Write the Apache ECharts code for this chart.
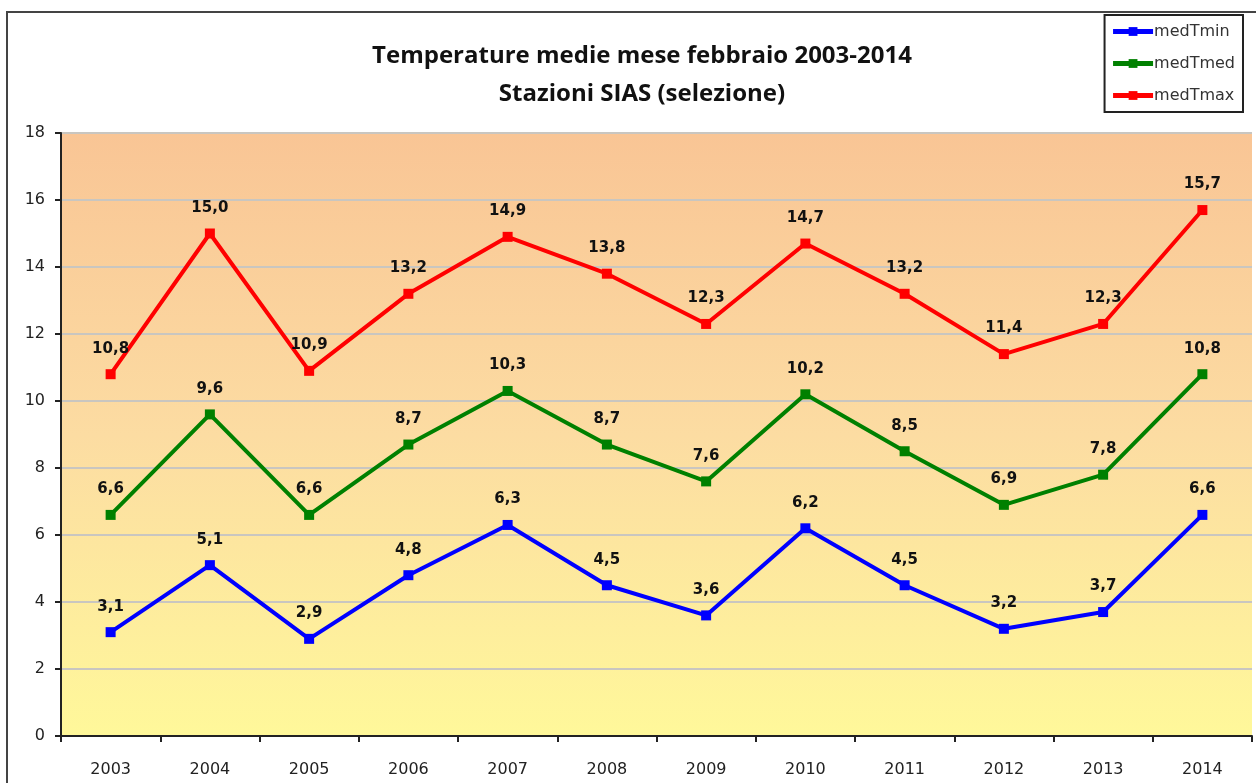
<!DOCTYPE html>
<html>
<head>
<meta charset="utf-8">
<script src="https://cdn.jsdelivr.net/npm/echarts@6/dist/echarts.min.js"></script>
<style>
  html, body { margin: 0; padding: 0; background: #fff; }
  #chart { width: 1256px; height: 783px; }
</style>
</head>
<body>
<div id="chart"></div>
<script>
var years = ['2003', '2004', '2005', '2006', '2007', '2008', '2009', '2010', '2011', '2012', '2013', '2014'];
var medTmin = [3.1, 5.1, 2.9, 4.8, 6.3, 4.5, 3.6, 6.2, 4.5, 3.2, 3.7, 6.6];
var medTmed = [6.6, 9.6, 6.6, 8.7, 10.3, 8.7, 7.6, 10.2, 8.5, 6.9, 7.8, 10.8];
var medTmax = [10.8, 15.0, 10.9, 13.2, 14.9, 13.8, 12.3, 14.7, 13.2, 11.4, 12.3, 15.7];

var myChart = echarts.init(document.getElementById('chart'));

function makeSeries(name, data, color) {
  return {
    name: name,
    type: 'line',
    data: data,
    symbol: 'rect',
    symbolSize: 10,
    lineStyle: { color: color, width: 4 },
    itemStyle: { color: color },
    label: {
      show: true,
      position: 'top',
      distance: 13,
      color: '#111',
      fontWeight: 'bold',
      fontSize: 15,
      fontFamily: 'DejaVu Sans',
      formatter: function (p) { return p.value.toFixed(1).replace('.', ','); }
    },
    z: 3
  };
}

var option = {
  backgroundColor: '#ffffff',
  animation: false,
  title: {
    text: 'Temperature medie mese febbraio 2003-2014\nStazioni SIAS (selezione)',
    left: 637,
    textAlign: 'center',
    top: 32,
    textStyle: {
      fontFamily: 'Open Sans',
      fontWeight: 'bold',
      fontSize: 24,
      lineHeight: 38,
      color: '#111'
    }
  },
  legend: {
    orient: 'vertical',
    right: 13,
    top: 15,
    width: 130,
    padding: [7, 8, 7, 6],
    itemGap: 13,
    itemWidth: 40,
    itemHeight: 11,
    backgroundColor: '#ffffff',
    borderColor: '#222',
    borderWidth: 2,
    lineStyle: { width: 5 },
    textStyle: { fontFamily: 'DejaVu Sans', fontSize: 16, lineHeight: 19, color: '#333', padding: [0, 0, 0, -4] },
    data: ['medTmin', 'medTmed', 'medTmax']
  },
  grid: { left: 61, right: 4, top: 133, bottom: 47, containLabel: false },
  xAxis: {
    type: 'category',
    data: years,
    boundaryGap: true,
    axisLine: { lineStyle: { color: '#222', width: 2 } },
    axisTick: { show: true, inside: false, length: 6, lineStyle: { color: '#222', width: 2 } },
    axisLabel: { margin: 26, fontSize: 16, color: '#222', fontFamily: 'DejaVu Sans' }
  },
  yAxis: {
    type: 'value',
    min: 0,
    max: 18,
    interval: 2,
    axisLine: { show: true, lineStyle: { color: '#222', width: 2 } },
    axisTick: { show: true, length: 6, lineStyle: { color: '#222', width: 2 } },
    axisLabel: { margin: 16, fontSize: 16, color: '#222', fontFamily: 'DejaVu Sans' },
    splitLine: { lineStyle: { color: '#c9c6c0', width: 2 } },
    splitArea: { show: false }
  },
  graphic: [
    {
      type: 'rect',
      shape: { x: 62, y: 133, width: 1190, height: 603 },
      style: {
        fill: new echarts.graphic.LinearGradient(0, 0, 0, 1, [
          { offset: 0, color: '#f9c595' },
          { offset: 0.5, color: '#fcdca2' },
          { offset: 1, color: '#fff89a' }
        ])
      },
      z: -1,
      silent: true
    },
    {
      type: 'rect',
      shape: { x: 7, y: 12, width: 1260, height: 800 },
      style: { fill: 'none', stroke: '#444', lineWidth: 2 },
      z: 10,
      silent: true
    }
  ],
  series: [
    makeSeries('medTmin', medTmin, '#0000ff'),
    makeSeries('medTmed', medTmed, '#008000'),
    makeSeries('medTmax', medTmax, '#ff0000')
  ]
};

myChart.setOption(option);
window.addEventListener('resize', function () { myChart.resize(); });
</script>
</body>
</html>
